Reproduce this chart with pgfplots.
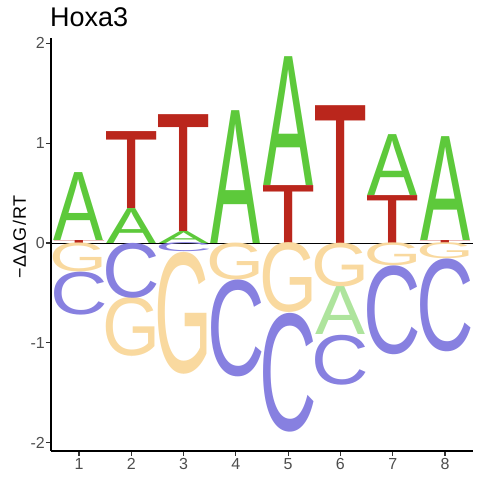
\documentclass[border=0pt]{standalone}
\usepackage{pgfplots}
\usepackage{pgfplotstable}
\pgfplotsset{compat=1.18}
\usepackage{fontspec}
\setmainfont{Liberation Sans}
\usepackage{graphicx}

\definecolor{colA}{HTML}{5DC93B}
\definecolor{colAlight}{HTML}{AEE49D}
\definecolor{colT}{HTML}{BA261C}
\definecolor{colC}{HTML}{8780E0}
\definecolor{colG}{HTML}{F9D99F}
\definecolor{labgrey}{HTML}{4D4D4D}
\definecolor{tickgrey}{HTML}{333333}

% x = position, ylow = bottom of letter, h = letter height
\pgfplotstableread{
x ylow h
1 0.03 0.68
2 0.00 0.35
3 0.00 0.12
4 0.00 1.33
5 0.58 1.29
7 0.48 0.61
8 0.03 1.04
}\dataA
\pgfplotstableread{
x ylow h
1 0.00 0.03
2 0.35 0.77
3 0.12 1.17
5 0.00 0.58
6 0.00 1.38
7 0.00 0.48
8 0.00 0.03
}\dataT
\pgfplotstableread{
x ylow h
1 -0.29 0.29
2 -1.14 0.59
3 -1.31 1.22
4 -0.37 0.37
5 -0.70 0.70
6 -0.44 0.44
7 -0.23 0.23
8 -0.16 0.16
}\dataG
\pgfplotstableread{
x ylow h
1 -0.72 0.43
2 -0.55 0.55
3 -0.09 0.09
4 -1.34 0.97
5 -1.89 1.19
6 -1.42 0.50
7 -1.12 0.89
8 -1.09 0.93
}\dataC
\pgfplotstableread{
x ylow h
6 -0.92 0.48
}\dataAneg

% axis: height 413.5pt over y range 4.143 -> 99.81 pt per unit
\newcommand{\unity}{99.81}

\pgfplotsset{
  letterplot/.style n args={3}{%
    scatter, only marks, mark=*, mark size=0pt,
    mark options={draw=none, fill=none},
    visualization depends on={\thisrow{h} \as \hh},
    scatter/@pre marker code/.code={%
      \pgfmathsetmacro\hpt{\hh*\unity}%
      \node[anchor=south, inner sep=0pt, outer sep=0pt, text=#3] at (0pt,0pt)
        {\resizebox*{#2pt}{\hpt pt}{#1}};%
    },
    scatter/@post marker code/.code={},
  },
}

\begin{document}
\begin{tikzpicture}
\useasboundingbox (0,0) rectangle (480pt,480pt);
\begin{axis}[
  at={(51pt,29pt)}, anchor=south west,
  scale only axis, width=422pt, height=413.5pt,
  xmin=0.4645, xmax=8.535, ymin=-2.084, ymax=2.059,
  axis lines=left,
  axis line style={-, line width=1.6pt, black},
  xtick={1,2,3,4,5,6,7,8},
  ytick={-2,-1,0,1,2},
  tick align=outside,
  major tick length=5pt,
  tick style={line width=1.1pt, tickgrey},
  /pgf/number format/assume math mode=true,
  ticklabel style={font=\fontsize{16}{19}\selectfont, text=labgrey},
  xticklabel style={inner sep=2pt},
  yticklabel style={inner sep=1pt},
  clip=false,
]
\addplot[letterplot={A}{50}{colA}] table[x=x, y=ylow] {\dataA};
\addplot[letterplot={T}{54.2}{colT}] table[x=x, y=ylow] {\dataT};
\addplot[letterplot={G}{58}{colG}] table[x=x, y=ylow] {\dataG};
\addplot[letterplot={C}{57.5}{colC}] table[x=x, y=ylow] {\dataC};
\addplot[letterplot={A}{50}{colAlight}] table[x=x, y=ylow] {\dataAneg};
\addplot[black, line width=1pt, no marks] coordinates {(0.4645,0) (8.535,0)};
\end{axis}
\node[anchor=base west, inner sep=0pt] at (50pt,453.3pt)
  {\fontsize{27}{30}\selectfont Hoxa3};
\node[rotate=90, inner sep=0pt] at (19.5pt,243pt)
  {\fontsize{18}{21}\selectfont\addfontfeature{LetterSpace=6}−ΔΔG/RT};
\end{tikzpicture}
\end{document}
